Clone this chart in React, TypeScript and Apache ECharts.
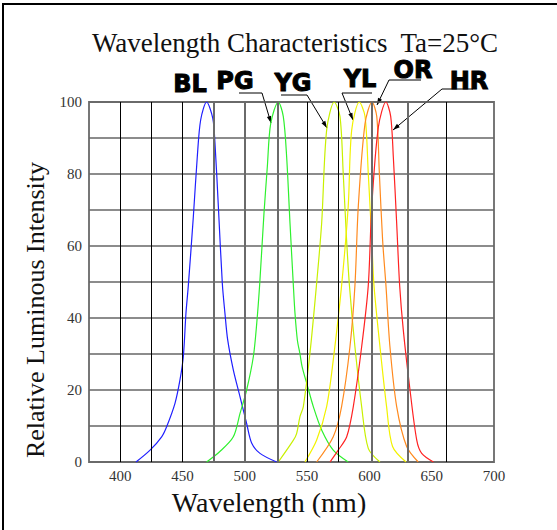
import React, { useEffect, useRef } from "react";
import * as echarts from "echarts";

// ---- data (wavelength nm, relative intensity %) ----
const blCurve: number[][] = [
  [412.7, 0], [424, 3.3], [433.3, 7], [437.3, 9.8], [444, 16.3], [448, 22.8], [450.7, 29.3],
  [452.8, 41.3], [454.7, 49], [458.7, 68], [461.9, 84.8], [464.6, 95], [469.4, 100], [474.3, 95.5],
  [476.1, 88.5], [478.8, 71], [482, 49.5], [484.1, 41.3], [486.3, 33.9], [490.8, 25.6], [496.2, 18.1],
  [501.5, 10.7], [505.6, 5.2], [512.2, 2.4], [525.6, 0],
];
const pgCurve: number[][] = [
  [469.4, 0], [480, 2.9], [490.8, 7], [496.2, 13.5], [501.5, 20], [506.9, 29.3], [509.6, 38.5],
  [512, 49.5], [515.4, 69], [518.1, 82], [520.8, 94], [526.9, 100], [530.9, 96], [533.6, 84.8],
  [536.3, 66.3], [539, 49], [540.3, 41.3], [542.2, 33.9], [544.3, 30], [546, 26.5], [550, 21.5],
  [555, 15.4], [561.7, 8.9], [571, 3.3], [583, 0],
];
const ygCurve: number[][] = [
  [526.9, 0], [538.9, 6], [541.6, 7.9], [544.3, 12.6], [547, 15.4], [552.3, 30.2], [557.5, 49],
  [561.7, 66.3], [565.7, 92.2], [571.8, 100], [576.4, 96], [579, 80.2], [581.7, 61.7], [584, 49],
  [588.4, 32], [593.8, 15.4], [599.1, 3.8], [608.5, 0],
];
const ylCurve: number[][] = [
  [548.3, 0], [557.7, 6.1], [565.7, 15.4], [571, 28.3], [577.7, 49], [583, 71], [585.8, 92.2],
  [591.9, 100], [596.5, 96], [599.1, 80.2], [601.9, 61.7], [603.7, 49], [608.5, 32], [613.8, 15.4],
  [618.6, 4.3], [629.4, 0],
];
const orCurve: number[][] = [
  [557.7, 0], [571, 7], [577.7, 15.4], [584.4, 32], [588.4, 49], [591.1, 71], [596.5, 94],
  [602.1, 100], [605.9, 96], [608, 80.2], [610.6, 61.7], [613.3, 49], [616.5, 32], [621.9, 15.4],
  [629.9, 4.3], [639.2, 0],
];
const hrCurve: number[][] = [
  [568.4, 0], [575, 3.3], [581.8, 7], [587.1, 15.4], [593.8, 32], [599.1, 49], [601.9, 71],
  [607.2, 93], [613.3, 100], [617.1, 96], [619.2, 84.8], [621.9, 66.3], [624.3, 49], [627.2, 36.7],
  [632.6, 20], [638, 6.1], [642, 2.4], [651.4, 0],
];
const seriesNames = ["BL", "PG", "YG", "YL", "OR", "HR"];
const seriesColors = ["#1f1fff", "#2ef02e", "#c8f000", "#f2f200", "#ff8a1e", "#ff2222"];
const curves = [blCurve, pgCurve, ygCurve, ylCurve, orCurve, hrCurve];

// vertical grid lines of the original drawing (nm)
const thinGridX = [400, 425, 450, 550, 575, 661.5];
const thickGridX = [475, 500, 526.5, 602, 631];

const xTickValues = [400, 450, 500, 550, 600, 650, 700];
const yTickValues = [0, 20, 40, 60, 80, 100];

const SERIF = '"Liberation Serif", "Times New Roman", serif';
const BOLD = '"DejaVu Sans", sans-serif';

function arrowHead(x1: number, y1: number, x2: number, y2: number) {
  const dx = x2 - x1, dy = y2 - y1;
  const len = Math.sqrt(dx * dx + dy * dy);
  const ux = dx / len, uy = dy / len;
  const L = 7, W = 2.2;
  const bx = x2 - ux * L, by = y2 - uy * L;
  return [[x2, y2], [bx - uy * W, by + ux * W], [bx + uy * W, by - ux * W]];
}

// leader annotations: label text + underline + pointer to curve
const labels = [
  { t: "BL", x: 190, y: 84 },
  { t: "PG", x: 235, y: 81, u: [239, 262, 93], from: [262, 93], to: [271, 123] },
  { t: "YG", x: 293, y: 83, u: [281, 307, 95], from: [307, 95], to: [327, 128] },
  { t: "YL", x: 360, y: 79, u: [342, 372, 93], from: [342, 93], to: [353, 120] },
  { t: "OR", x: 413, y: 70, u: [389, 421, 80], from: [389, 80], to: [377, 105] },
  { t: "HR", x: 469, y: 81, u: [442, 473, 89], from: [442, 89], to: [393, 130] },
];

export default function App() {
  const ref = useRef<HTMLDivElement>(null);
  useEffect(() => {
    if (!ref.current) return;
    const chart = echarts.init(ref.current, undefined, { renderer: "svg" });

    const graphics: any[] = [
      {
        type: "rect",
        shape: { x: 3, y: 4, width: 620, height: 620 },
        style: { fill: "none", stroke: "#000", lineWidth: 2 },
        silent: true,
      },
      {
        type: "text",
        x: 295,
        y: 43,
        style: {
          text: "Wavelength Characteristics  Ta=25\u00B0C",
          fontFamily: SERIF,
          fontSize: 27,
          fill: "#111",
          align: "center",
          verticalAlign: "middle",
        },
      },
      {
        type: "text",
        x: 269,
        y: 502,
        style: {
          text: "Wavelength (nm)",
          fontFamily: SERIF,
          fontSize: 28,
          fill: "#111",
          align: "center",
          verticalAlign: "middle",
        },
      },
      {
        type: "text",
        x: 35,
        y: 310,
        rotation: Math.PI / 2,
        style: {
          text: "Relative Luminous Intensity",
          fontFamily: SERIF,
          fontSize: 26,
          fill: "#111",
          align: "center",
          verticalAlign: "middle",
        },
      },
    ];
    labels.forEach((l: any) => {
      graphics.push({
        type: "text",
        x: l.x,
        y: l.y,
        style: {
          text: l.t,
          fontFamily: BOLD,
          fontWeight: "bold",
          fontSize: 24,
          fill: "#000",
          stroke: "#000",
          lineWidth: 1,
          align: "center",
          verticalAlign: "middle",
        },
      });
      if (l.u) {
        graphics.push({
          type: "line",
          shape: { x1: l.u[0], y1: l.u[2], x2: l.u[1], y2: l.u[2] },
          style: { stroke: "#000", lineWidth: 1 },
        });
        graphics.push({
          type: "line",
          shape: { x1: l.from[0], y1: l.from[1], x2: l.to[0], y2: l.to[1] },
          style: { stroke: "#000", lineWidth: 1 },
        });
        graphics.push({
          type: "polygon",
          shape: { points: arrowHead(l.from[0], l.from[1], l.to[0], l.to[1]) },
          style: { fill: "#000" },
        });
      }
    });

    const gridLines = [
      ...thinGridX.map((v) => ({ xAxis: v, lineStyle: { color: "#000", width: 1, type: "solid" } })),
      ...thickGridX.map((v) => ({ xAxis: v, lineStyle: { color: "#6a6a6a", width: 2, type: "solid" } })),
    ];

    const option: any = {
      animation: false,
      backgroundColor: "#fff",
      grid: {
        left: 89,
        top: 102,
        width: 405,
        height: 360,
        show: true,
        borderColor: "#777",
        borderWidth: 2,
        backgroundColor: "transparent",
      },
      xAxis: {
        type: "value",
        min: 375,
        max: 700,
        interval: 25,
        axisLine: { show: false },
        axisTick: { show: false },
        splitLine: { show: false },
        axisLabel: {
          formatter: (v: number) => (xTickValues.includes(v) ? String(v) : ""),
          margin: 6,
          fontFamily: SERIF,
          fontSize: 15,
          color: "#333",
        },
      },
      yAxis: {
        type: "value",
        min: 0,
        max: 100,
        interval: 10,
        axisLine: { show: false },
        axisTick: { show: false },
        splitLine: { show: true, lineStyle: { color: "#666", width: 1.6 } },
        axisLabel: {
          formatter: (v: number) => (yTickValues.includes(v) ? String(v) : ""),
          margin: 7,
          fontFamily: SERIF,
          fontSize: 15,
          color: "#333",
        },
      },
      graphic: graphics,
      series: [
        {
          type: "line",
          name: "grid",
          data: [[375, 0]],
          showSymbol: false,
          symbol: "none",
          lineStyle: { opacity: 0 },
          z: 1,
          silent: true,
          markLine: {
            silent: true,
            symbol: ["none", "none"],
            label: { show: false },
            data: gridLines,
          },
        },
        ...curves.map((c, i) => ({
          type: "line",
          name: seriesNames[i],
          data: c,
          smooth: 0.3,
          symbol: "none",
          z: 3,
          lineStyle: { color: seriesColors[i], width: 1.2 },
        })),
      ],
    };
    chart.setOption(option);
    return () => chart.dispose();
  }, []);
  return (
    <div
      ref={ref}
      style={{ position: "absolute", left: 0, top: 0, width: 557, height: 530, background: "#fff" }}
    />
  );
}
